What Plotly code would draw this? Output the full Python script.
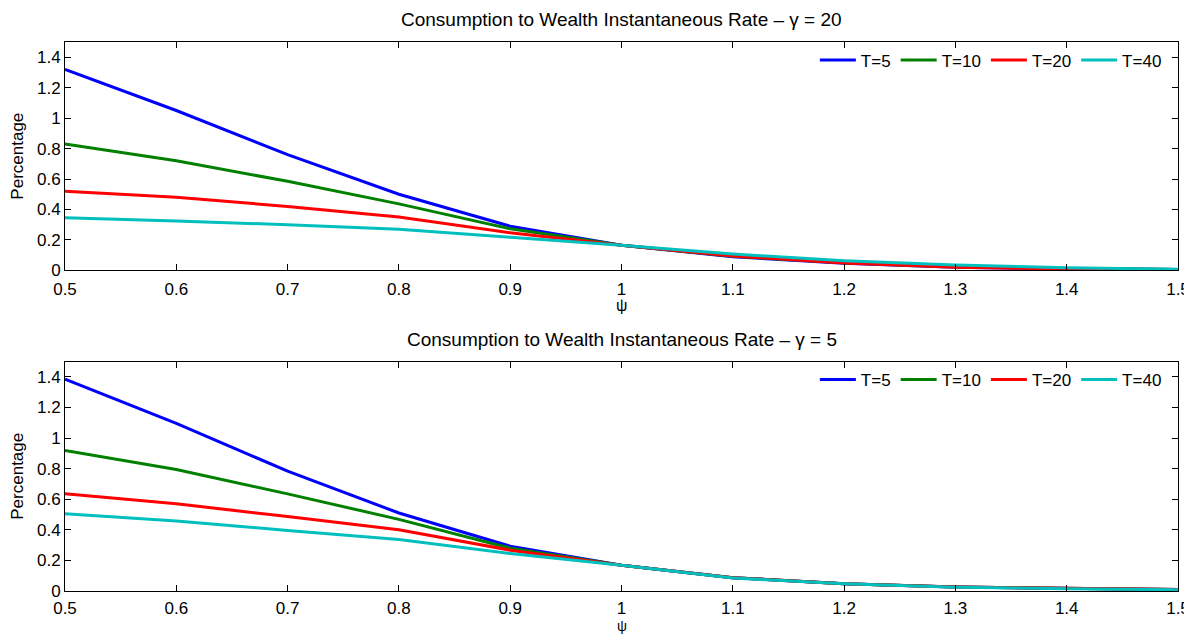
import plotly.graph_objects as go
from plotly.subplots import make_subplots

psi = [0.5, 0.6, 0.7, 0.8, 0.9, 1.0, 1.1, 1.2, 1.3, 1.4, 1.5]
horizons = ["T=5", "T=10", "T=20", "T=40"]
colors = ["#0000FF", "#008000", "#FF0000", "#00BFBF"]

# gamma = 20 (top panel)
g20_t5 = [1.32, 1.05, 0.76, 0.50, 0.29, 0.165, 0.09, 0.047, 0.02, 0.01, 0.005]
g20_t10 = [0.83, 0.72, 0.585, 0.437, 0.273, 0.165, 0.093, 0.05, 0.024, 0.012, 0.006]
g20_t20 = [0.52, 0.48, 0.42, 0.35, 0.247, 0.165, 0.095, 0.048, 0.02, 0.01, 0.005]
g20_t40 = [0.345, 0.325, 0.30, 0.27, 0.218, 0.165, 0.107, 0.063, 0.035, 0.017, 0.008]

# gamma = 5 (bottom panel)
g5_t5 = [1.385, 1.096, 0.783, 0.51, 0.293, 0.168, 0.087, 0.048, 0.026, 0.016, 0.01]
g5_t10 = [0.918, 0.794, 0.635, 0.468, 0.28, 0.168, 0.087, 0.048, 0.026, 0.016, 0.01]
g5_t20 = [0.635, 0.57, 0.487, 0.40, 0.267, 0.168, 0.087, 0.048, 0.026, 0.016, 0.01]
g5_t40 = [0.505, 0.457, 0.396, 0.337, 0.245, 0.168, 0.085, 0.047, 0.025, 0.014, 0.008]

top_series = [g20_t5, g20_t10, g20_t20, g20_t40]
bottom_series = [g5_t5, g5_t10, g5_t20, g5_t40]

FONT = "Liberation Sans, Arial, sans-serif"
TOP_DOMAIN = [0.584, 1.0]
BOTTOM_DOMAIN = [0.0, 0.418]

fig = make_subplots(rows=2, cols=1)

for name, color, y in zip(horizons, colors, top_series):
    fig.add_trace(
        go.Scatter(x=psi, y=y, mode="lines", name=name, line=dict(color=color, width=3),
                   legend="legend"),
        row=1, col=1,
    )
for name, color, y in zip(horizons, colors, bottom_series):
    fig.add_trace(
        go.Scatter(x=psi, y=y, mode="lines", name=name, line=dict(color=color, width=3),
                   legend="legend2"),
        row=2, col=1,
    )

AXIS = dict(
    showgrid=False,
    zeroline=False,
    showline=True,
    linecolor="black",
    linewidth=1,
    mirror="ticks",
    ticks="inside",
    ticklen=6,
    tickcolor="black",
    tickfont=dict(size=17, color="black"),
    automargin=False,
)

for r in (1, 2):
    fig.update_xaxes(AXIS, range=[0.5, 1.5], dtick=0.1, tick0=0.5, row=r, col=1,
                     ticklabelstandoff=3 if r == 1 else 2)
    fig.update_yaxes(AXIS, range=[0, 1.5], dtick=0.2, tick0=0, row=r, col=1,
                     title=dict(text="Percentage", font=dict(size=17, color="black"), standoff=17))

fig.update_layout(
    yaxis=dict(domain=TOP_DOMAIN),
    yaxis2=dict(domain=BOTTOM_DOMAIN),
)

legend_common = dict(
    orientation="h",
    xanchor="right",
    x=0.99,
    yanchor="top",
    bgcolor="rgba(0,0,0,0)",
    font=dict(size=17, color="black"),
    itemwidth=36,
    tracegroupgap=0,
)


def panel_title(text, y):
    return dict(text=text, x=0.5, y=y, xref="paper", yref="paper", yanchor="bottom",
                yshift=10, showarrow=False, font=dict(size=19, color="black"))


def psi_label(y, shift, size):
    return dict(text="ψ", x=0.5, y=y, xref="paper", yref="paper", yanchor="middle",
                yshift=shift, showarrow=False, font=dict(size=size, color="black"))


fig.update_layout(
    width=1184,
    height=627,
    plot_bgcolor="white",
    paper_bgcolor="white",
    font=dict(family=FONT, color="black"),
    margin=dict(l=57, r=14, t=34, b=44),
    legend=dict(legend_common, y=0.999),
    legend2=dict(legend_common, y=BOTTOM_DOMAIN[1] - 0.001),
    annotations=[
        panel_title("Consumption to Wealth Instantaneous Rate – γ = 20", TOP_DOMAIN[1]),
        panel_title("Consumption to Wealth Instantaneous Rate – γ = 5", BOTTOM_DOMAIN[1]),
        psi_label(TOP_DOMAIN[0], -35, 16),
        psi_label(BOTTOM_DOMAIN[0], -35, 14),
    ],
)

fig.write_html("out.html")
